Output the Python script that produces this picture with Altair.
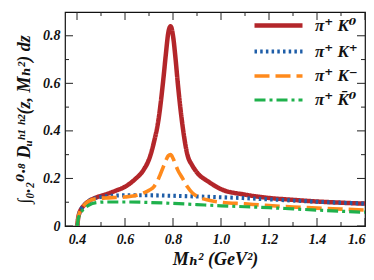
import altair as alt
import pandas as pd

# ---- data ----
series_names = ["π⁺ K⁰", "π⁺ K⁺", "π⁺ K⁻", "π⁺ K̄⁰"]
series_colors = ["#b3262a", "#1f5ea8", "#ff8a1c", "#1fb14c"]
series_dash = [[1, 0], [2.5, 3.2], [15, 6], [11, 4, 3, 4]]
series_width = [4.5, 3.2, 4.0, 4.0]

x_k0 = [0.401, 0.405, 0.41, 0.42, 0.43, 0.45, 0.48, 0.52, 0.56, 0.6, 0.64, 0.68, 0.7, 0.72,
        0.74, 0.76, 0.77, 0.78, 0.79, 0.80, 0.81, 0.82, 0.84, 0.86, 0.88, 0.9, 0.95, 1.0,
        1.1, 1.2, 1.3, 1.4, 1.5, 1.6]
y_k0 = [0.0, 0.035, 0.055, 0.075, 0.088, 0.105, 0.12, 0.133, 0.148, 0.165, 0.195, 0.24, 0.28, 0.35,
        0.45, 0.62, 0.72, 0.81, 0.84, 0.80, 0.71, 0.60, 0.42, 0.30, 0.255, 0.225, 0.185, 0.155,
        0.132, 0.118, 0.11, 0.103, 0.098, 0.094]

x_kp = [0.401, 0.405, 0.41, 0.42, 0.43, 0.45, 0.48, 0.52, 0.56, 0.6, 0.7, 0.8, 0.9, 1.0,
        1.1, 1.2, 1.3, 1.4, 1.5, 1.6]
y_kp = [0.0, 0.035, 0.055, 0.075, 0.088, 0.105, 0.118, 0.125, 0.128, 0.129, 0.129, 0.127, 0.124, 0.121,
        0.117, 0.112, 0.107, 0.102, 0.098, 0.094]

x_km = [0.401, 0.405, 0.41, 0.42, 0.43, 0.45, 0.48, 0.52, 0.56, 0.6, 0.64, 0.68, 0.7, 0.72,
        0.74, 0.76, 0.77, 0.78, 0.79, 0.80, 0.81, 0.82, 0.84, 0.86, 0.88, 0.9, 0.95, 1.0,
        1.1, 1.2, 1.3, 1.4, 1.5, 1.6]
y_km = [0.0, 0.035, 0.055, 0.075, 0.088, 0.105, 0.115, 0.118, 0.12, 0.122, 0.127, 0.14, 0.15, 0.165,
        0.2, 0.25, 0.275, 0.295, 0.30, 0.285, 0.26, 0.235, 0.20, 0.165, 0.14, 0.125, 0.108, 0.10,
        0.093, 0.086, 0.08, 0.075, 0.071, 0.067]

x_kb = [0.401, 0.405, 0.41, 0.42, 0.43, 0.45, 0.48, 0.52, 0.6, 0.7, 0.8, 0.9, 1.0,
        1.1, 1.2, 1.3, 1.4, 1.5, 1.6]
y_kb = [0.0, 0.03, 0.045, 0.062, 0.073, 0.088, 0.098, 0.101, 0.101, 0.099, 0.095, 0.09, 0.085,
        0.081, 0.077, 0.072, 0.067, 0.062, 0.058]

x_major = [0.4, 0.6, 0.8, 1.0, 1.2, 1.4, 1.6]
x_minor = [0.5, 0.7, 0.9, 1.1, 1.3, 1.5]
y_major = [0.0, 0.2, 0.4, 0.6, 0.8]
y_minor = [0.1, 0.3, 0.5, 0.7]

W, H = 300, 214
FONT = "'Liberation Serif', 'Times New Roman', 'DejaVu Serif', serif"

rows = []
for name, xs, ys in zip(series_names, [x_k0, x_kp, x_km, x_kb], [y_k0, y_kp, y_km, y_kb]):
    for i, (a, b) in enumerate(zip(xs, ys)):
        rows.append({"s": name, "x": a, "y": b, "i": i})
df = pd.DataFrame(rows)

xs = alt.Scale(domain=[0.35, 1.6], nice=False, zero=False)
ys = alt.Scale(domain=[0, 0.9], nice=False)

lines = alt.Chart(df).mark_line(interpolate="monotone", clip=True).encode(
    x=alt.X("x:Q", scale=xs,
            axis=alt.Axis(values=x_major, format=".1f", ticks=False, domain=False, grid=False,
                          title="Mₕ² (GeV²)", labelPadding=6, titlePadding=4)),
    y=alt.Y("y:Q", scale=ys,
            axis=alt.Axis(values=y_major, ticks=False, domain=False, grid=False,
                          labelExpr="datum.value == 0 ? '0' : format(datum.value, '.1f')",
                          title="∫₀.₂⁰·⁸ Dᵤʰ¹ ʰ²(z, Mₕ²) dz", labelPadding=5, titlePadding=9)),
    color=alt.Color("s:N", scale=alt.Scale(domain=series_names, range=series_colors),
                    sort=series_names, title=None),
    strokeDash=alt.StrokeDash("s:N", scale=alt.Scale(domain=series_names, range=series_dash),
                              sort=series_names, title=None),
    strokeWidth=alt.StrokeWidth("s:N", scale=alt.Scale(domain=series_names, range=series_width),
                                sort=series_names, title=None),
    order="i:Q",
)

def tick_layer(vals, axis, side, length):
    d = pd.DataFrame({"v": vals})
    if axis == "x":
        if side == "bottom":
            enc = dict(x=alt.X("v:Q", scale=xs), y=alt.value(H), y2=alt.value(H - length))
        else:
            enc = dict(x=alt.X("v:Q", scale=xs), y=alt.value(0), y2=alt.value(length))
    else:
        if side == "left":
            enc = dict(y=alt.Y("v:Q", scale=ys), x=alt.value(0), x2=alt.value(length))
        else:
            enc = dict(y=alt.Y("v:Q", scale=ys), x=alt.value(W), x2=alt.value(W - length))
    return alt.Chart(d).mark_rule(color="#222", strokeWidth=1).encode(**enc)

ticks = []
for side in ["bottom", "top"]:
    ticks.append(tick_layer(x_major, "x", side, 8))
    ticks.append(tick_layer(x_minor, "x", side, 4))
for side in ["left", "right"]:
    ticks.append(tick_layer(y_major, "y", side, 8))
    ticks.append(tick_layer(y_minor, "y", side, 4))

chart = alt.layer(*ticks, lines).properties(
    width=W, height=H,
    autosize=alt.AutoSizeParams(type="none"),
    padding={"left": 57, "top": 4, "right": 1, "bottom": 50},
).configure_view(stroke="#111", strokeWidth=1.2).configure_axis(
    labelFont=FONT, labelFontSize=14, labelFontStyle="italic", labelFontWeight="bold",
    labelColor="#111", titleFont=FONT, titleFontSize=18, titleFontStyle="italic",
    titleFontWeight="bold", titleColor="#111",
).configure_legend(
    orient="none", legendX=199, legendY=-1, padding=0,
    symbolType="M-2,0H2", symbolSize=576, symbolStrokeWidth=4,
    labelFont=FONT, labelFontSize=17, labelFontStyle="italic", labelFontWeight="bold",
    labelColor="#111", labelOffset=22, rowPadding=2,
)

chart.save("out.html", embed_options={"renderer": "svg", "actions": False})
